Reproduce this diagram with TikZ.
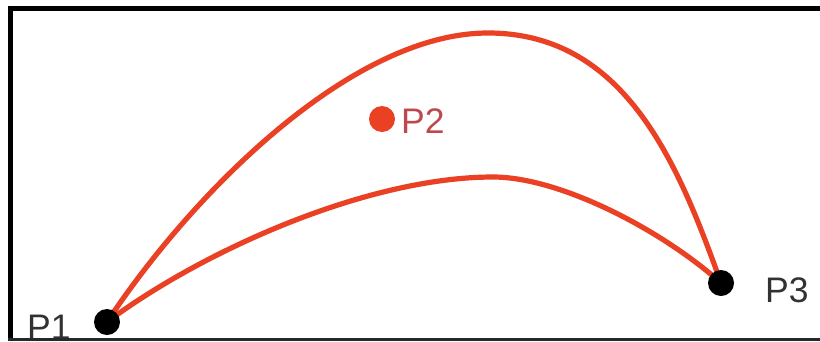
\documentclass[tikz,border=0pt]{standalone}
\usepackage{fontspec}
\setmainfont{Liberation Sans}
\usetikzlibrary{backgrounds}
\definecolor{curvered}{RGB}{234,64,36}
\definecolor{labelgray}{RGB}{50,50,50}
\definecolor{labelred}{RGB}{190,72,78}
\definecolor{framedark}{RGB}{40,40,40}
\begin{document}
\begin{tikzpicture}[x=1pt,y=-1pt,
  curve/.style={draw=curvered, line width=5.2pt},
  dotnode/.style={circle, fill=#1, inner sep=0pt, minimum size=26pt},
  lbl/.style={anchor=base west, inner sep=0pt, font=\fontsize{35.5}{36}\selectfont, text=#1}]
\useasboundingbox (0,0) rectangle (820,341);
% points
\node[dotnode=black] (p1) at (107,322) {};
\node[dotnode=curvered] (p2) at (382,119) {};
\node[dotnode=black] (p3) at (721,283) {};
% labels
\node[lbl=labelgray] (l1) at (27,339) {P1};
\node[lbl=labelred] (l2) at (401,133) {P2};
\node[lbl=labelgray] (l3) at (765,302) {P3};
% curves
\begin{scope}[on background layer]
\fill[white] (0,0) rectangle (820,341);
\draw[curve] (p1.center) .. controls (193,192) and (352,33) .. (488,33)
  .. controls (626,33) and (679,166) .. (p3.center);
\draw[curve] (p1.center) .. controls (205,249) and (369,177) .. (493,177)
  .. controls (560,177) and (662,230) .. (p3.center);
\end{scope}
% frame
\fill[black] (8,6) rectangle (820,11);
\fill[black] (8,6) rectangle (13,341);
\fill[framedark] (8,338) rectangle (820,341);
\end{tikzpicture}
\end{document}
